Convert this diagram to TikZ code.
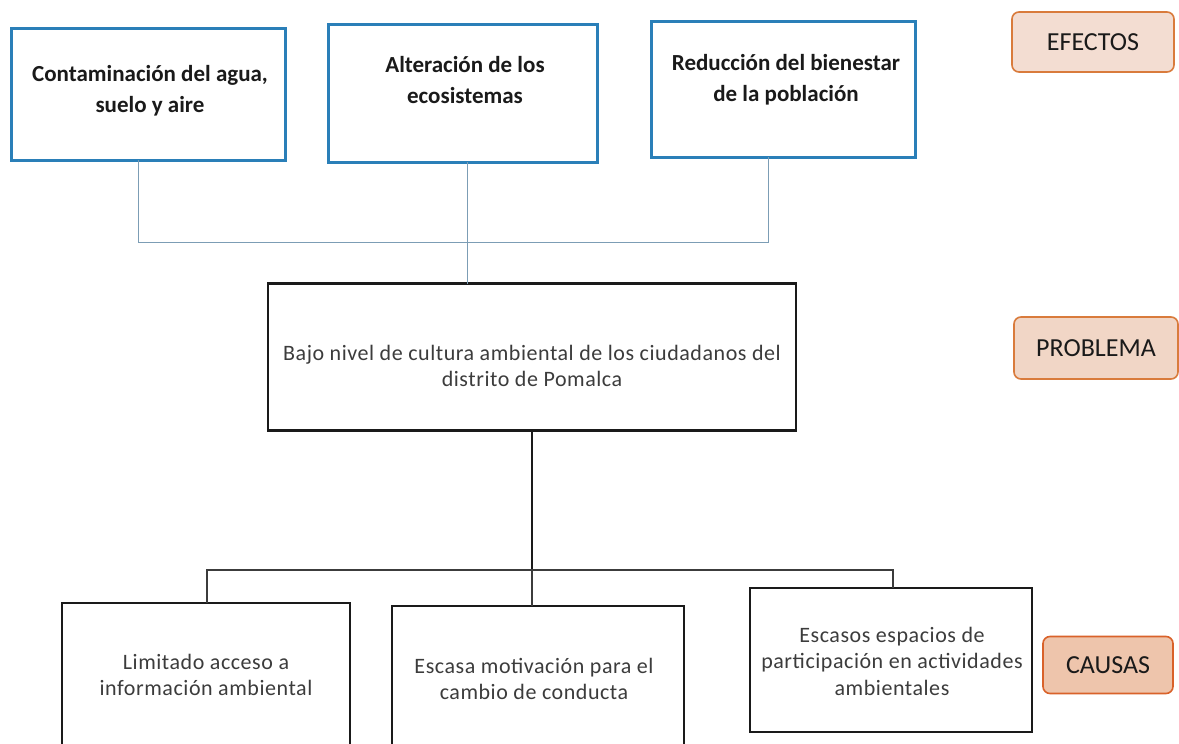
\documentclass[tikz,border=0pt]{standalone}
\usepackage{fontspec}
\setmainfont{Carlito}
\newfontfamily\spacedfont[LetterSpace=2.5]{Carlito}
\definecolor{boxblue}{HTML}{2A7FB8}
\definecolor{linkblue}{HTML}{7C9DB5}
\definecolor{inkblack}{HTML}{1A1A1A}
\definecolor{tagfillA}{HTML}{F3DDD2}
\definecolor{tagfillB}{HTML}{F1D6C6}
\definecolor{tagfillC}{HTML}{EEC5AC}
\definecolor{tagdraw}{HTML}{D97B3C}
\definecolor{tagdrawC}{HTML}{D9622A}
\begin{document}
\begin{tikzpicture}[x=1pt,y=-1pt,
  effbox/.style={draw=boxblue,line width=3pt,inner sep=0pt,outer sep=0pt,fill=white},
  efftext/.style={font=\fontsize{23}{31}\selectfont\bfseries,align=center,inner sep=0pt,text=inkblack},
  plainbox/.style={draw=inkblack,line width=2.8pt,inner sep=0pt,outer sep=0pt,fill=white},
  plaintext/.style={font=\spacedfont\fontsize{22}{26.5}\selectfont,align=center,inner sep=0pt,text=inkblack!85},
  toplink/.style={draw=linkblue,line width=1pt},
  botlink/.style={draw=inkblack!85,line width=1.3pt},
  mainlink/.style={draw=inkblack,line width=2.4pt},
  tag/.style={draw=tagdraw,line width=1.6pt,rounded corners=7pt,inner sep=0pt,outer sep=0pt,font=\fontsize{26}{30}\selectfont,text=inkblack}
]
\clip (0,0) rectangle (1179,744);
\fill[white] (0,0) rectangle (1179,744);

\coordinate (j1) at (138,242);
\coordinate (j3) at (768,242);
\coordinate (j2) at (467,242);
\coordinate (k1) at (207,570);
\coordinate (k2) at (532,570);
\coordinate (k3) at (893,570);

% effect boxes
\node[effbox,minimum width=274pt,minimum height=132pt] (e1) at (148,94) {};
\node[effbox,minimum width=269pt,minimum height=138pt] (e2) at (462.5,93) {};
\node[effbox,minimum width=264pt,minimum height=136pt] (e3) at (783,89) {};
\node[efftext] (e1t) at (150,91) {Contaminación del agua,\\suelo y aire};
\node[efftext] (e2t) at (465,80) {Alteración de los\\ecosistemas};
\node[efftext] (e3t) at (786,80) {Reducción del bienestar\\de la población};

% problem box
\node[plainbox,minimum width=528pt,minimum height=147pt] (p) at (532,357) {};
\node[plaintext] (pt) at (532,366) {Bajo nivel de cultura ambiental de los ciudadanos del\\distrito de Pomalca};

% cause boxes
\node[plainbox,minimum width=288pt,minimum height=160pt] (c1) at (206,683) {};
\node[plainbox,minimum width=292pt,minimum height=160pt] (c2) at (538,686) {};
\node[plainbox,minimum width=282pt,minimum height=144pt] (c3) at (891,660) {};
\node[plaintext] (c1t) at (206,675) {Limitado acceso a\\información ambiental};
\node[plaintext] (c2t) at (534,679) {Escasa motivación para el\\cambio de conducta};
\node[plaintext] (c3t) at (892,661) {Escasos espacios de\\participación en actividades\\ambientales};

% links
\draw[toplink] (e1.south -| j1) -- (j1) -- (j3) -- (e3.south -| j3);
\draw[toplink] (e2.south -| j2) -- (p.north -| j2);
\draw[mainlink] (p.south -| k2) -- (k2);
\draw[botlink] (c1.north -| k1) -- (k1) -- (k3) -- (c3.north -| k3);
\draw[botlink] (k2) -- (c2.north -| k2);

% tags
\node[tag,fill=tagfillA,minimum width=162pt,minimum height=60pt] (ef) at (1093,42) {EFECTOS};
\node[tag,fill=tagfillB,minimum width=164pt,minimum height=62pt] (pr) at (1096,348) {PROBLEMA};
\node[tag,draw=tagdrawC,fill=tagfillC,minimum width=130pt,minimum height=57pt] (ca) at (1108,665) {CAUSAS};
\end{tikzpicture}
\end{document}
